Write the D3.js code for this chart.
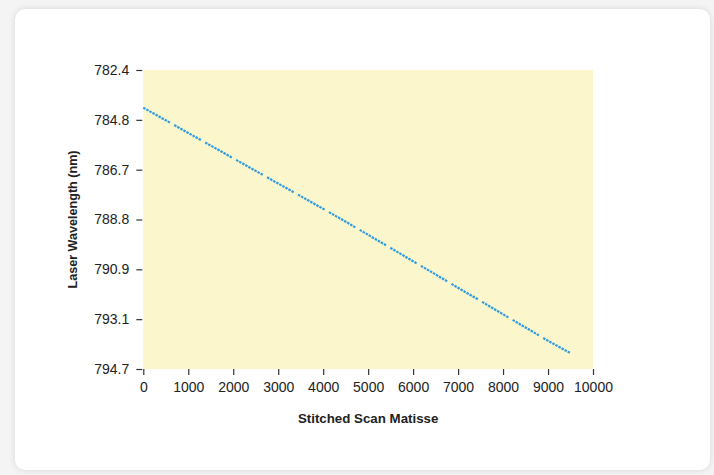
<!DOCTYPE html>
<html>
<head>
<meta charset="utf-8">
<script src="https://cdn.jsdelivr.net/npm/d3@7"></script>
<style>
  html, body { margin: 0; padding: 0; background: #f4f4f4; }
  body { width: 714px; height: 475px; overflow: hidden; position: relative; }
  #card { position: absolute; left: 15px; top: 9px; width: 695px; height: 461px;
          background: #fff; border-radius: 10px;
          box-shadow: 0 0 6px rgba(0,0,0,0.12); }
  svg { position: absolute; left: 0; top: 0; }
  text { font-family: "Liberation Sans", Arial, sans-serif; }
</style>
</head>
<body>
<div id="card"></div>
<svg id="chart" width="714" height="475"></svg>
<script>
// Data
const scanIndex = [0, 500, 1000, 1500, 2000, 2500, 3000, 3500, 4000, 4500, 5000,
                   5500, 6000, 6500, 7000, 7500, 8000, 8500, 9000, 9500];
const wavelength = [783.95, 784.47, 784.99, 785.51, 786.03, 786.55, 787.07, 787.59, 788.11, 788.64, 789.18,
                    789.72, 790.27, 790.81, 791.36, 791.90, 792.45, 792.99, 793.54, 794.05];
const xTicks = [0, 1000, 2000, 3000, 4000, 5000, 6000, 7000, 8000, 9000, 10000];
const yTickLabels = ["782.4", "784.8", "786.7", "788.8", "790.9", "793.1", "794.7"];
const yDomain = [782.4, 794.7];
const xDomain = [0, 10000];

const svg = d3.select("#chart");
const pLeft = 143.3, pRight = 593, pTop = 70, pBottom = 369;

const x = d3.scaleLinear().domain(xDomain).range([pLeft, pRight]);
const y = d3.scaleLinear().domain(yDomain).range([pTop, pBottom]);

// plot background
svg.append("rect")
  .attr("x", pLeft).attr("y", pTop)
  .attr("width", pRight - pLeft).attr("height", pBottom - pTop)
  .attr("fill", "#fcf6cd");

// y ticks evenly spaced, labelled with the chart's own labels
const yTickVals = yTickLabels.map((_, i) => yDomain[0] + i * (yDomain[1] - yDomain[0]) / (yTickLabels.length - 1));
const yAxis = d3.axisLeft(y).tickValues(yTickVals)
  .tickFormat((d, i) => yTickLabels[i]).tickSize(6).tickPadding(7);
const gy = svg.append("g").attr("transform", `translate(${pLeft - 1},0)`).call(yAxis);
gy.select(".domain").remove();

const xAxis = d3.axisBottom(x).tickValues(xTicks).tickFormat(d3.format("d")).tickSize(6).tickPadding(7);
const gx = svg.append("g").attr("transform", `translate(0,${pBottom})`).call(xAxis);
gx.select(".domain").remove();

[gx, gy].forEach(g => {
  g.selectAll("line").attr("stroke", "#333").attr("stroke-width", 1.2);
  g.selectAll("text").attr("fill", "#222").style("font-size", "14px")
    .style("font-family", "'Liberation Sans', Arial, sans-serif");
});

// line
const data = scanIndex.map((s, i) => ({ s, w: wavelength[i] }));
svg.append("path")
  .datum(data)
  .attr("fill", "none")
  .attr("stroke", "#2f9ce2")
  .attr("stroke-width", 2.2)
  .attr("stroke-dasharray", "2.5,1,2.5,1,2.5,1,2.5,1,2.5,1,2.5,1,2.5,1,2.5,1,2.5,5")
  .attr("d", d3.line().x(d => x(d.s)).y(d => y(d.w)));

// axis titles
svg.append("text")
  .attr("x", (pLeft + pRight) / 2).attr("y", 423)
  .attr("text-anchor", "middle")
  .style("font-size", "13.3px").style("font-weight", "bold").attr("fill", "#222")
  .text("Stitched Scan Matisse");

svg.append("text")
  .attr("transform", `translate(77,${(pTop + pBottom) / 2}) rotate(-90)`)
  .attr("text-anchor", "middle")
  .style("font-size", "12.6px").style("font-weight", "bold").attr("fill", "#222")
  .text("Laser Wavelength (nm)");
</script>
</body>
</html>
